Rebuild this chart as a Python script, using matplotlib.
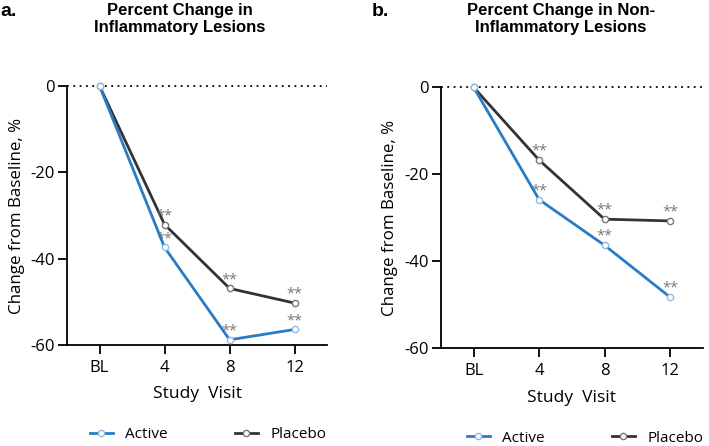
import matplotlib
matplotlib.use("Agg")
import matplotlib.pyplot as plt

visits = ["BL", "4", "8", "12"]

# panel a: inflammatory lesions
infl_active = [0, -37.4, -58.8, -56.4]
infl_placebo = [0, -32.1, -46.9, -50.3]

# panel b: non-inflammatory lesions
noninfl_active = [0, -25.8, -36.3, -48.2]
noninfl_placebo = [0, -16.7, -30.3, -30.7]

titles = ["Percent Change in\nInflammatory Lesions",
          "Percent Change in Non-\nInflammatory Lesions"]
panel_labels = ["a.", "b."]

BLUE = "#2a7bc6"
DARK = "#333333"
STAR = "#777777"

plt.rcParams["font.family"] = ["Open Sans", "DejaVu Sans"]

fig = plt.figure(figsize=(7.09, 4.46), dpi=100)
ax_a = fig.add_axes([0.0945, 0.2265, 0.367, 0.5807])
ax_b = fig.add_axes([0.622, 0.219, 0.369, 0.585])

# axes, data, legend anchor (left edge of first handle, vertical centre)
panels = [
    (ax_a, infl_active, infl_placebo, (0.088, -0.347)),
    (ax_b, noninfl_active, noninfl_placebo, (0.099, -0.344)),
]

x = list(range(len(visits)))

for ax, active, placebo, leg_anchor in panels:
    ax.axhline(0, color="black", lw=1.3, ls=(0, (1, 2.5)), zorder=1, clip_on=False)
    ax.plot(x, placebo, color=DARK, lw=2, marker="o", ms=4.5, mfc="white",
            mec="#777777", mew=1, label="Placebo", clip_on=False, zorder=3)
    ax.plot(x, active, color=BLUE, lw=2, marker="o", ms=4.5, mfc="white",
            mec="#8fbce6", mew=1, label="Active", clip_on=False, zorder=4)
    for series in (active, placebo):
        for xi, yi in zip(x[1:], series[1:]):
            ax.annotate("**", (xi, yi), xytext=(0, 1), textcoords="offset points",
                        ha="center", va="bottom", fontsize=10.5, color=STAR)

    ax.set_xlim(-0.5, 3.5)
    ax.set_ylim(-60, 0)
    ax.set_yticks([0, -20, -40, -60])
    ax.set_yticklabels(["0", "-20", "-40", "-60"])
    ax.set_xticks(x)
    ax.set_xticklabels(visits)
    ax.spines["top"].set_visible(False)
    ax.spines["right"].set_visible(False)
    ax.spines["left"].set_linewidth(1.3)
    ax.spines["bottom"].set_linewidth(1.3)
    ax.tick_params(axis="y", direction="out", length=6.5, width=1.3,
                   labelsize=12, pad=2, colors="black")
    ax.tick_params(axis="x", direction="out", length=6.5, width=1.3,
                   labelsize=12, pad=4, colors="black")
    ax.set_ylabel("Change from Baseline, %", fontsize=12.2)
    ax.set_xlabel("Study  Visit", fontsize=12.5)
    ax.yaxis.set_label_coords(-0.163, 0.5)
    ax.xaxis.set_label_coords(0.5, -0.16)

    handles, labels = ax.get_legend_handles_labels()
    ax.legend(handles[::-1], labels[::-1], ncol=2, loc="center left",
              bbox_to_anchor=leg_anchor, frameon=False, fontsize=11,
              borderaxespad=0, borderpad=0,
              handlelength=1.5, handletextpad=0.8, columnspacing=4.4)

fig.text(180 / 709, 1 - 3 / 446, titles[0], ha="center", va="top",
         fontsize=12, fontweight="bold", family="Liberation Sans", linespacing=1.2)
fig.text(561 / 709, 1 - 3 / 446, titles[1], ha="center", va="top",
         fontsize=12, fontweight="bold", family="Liberation Sans", linespacing=1.2)
fig.text(0.0, 1 - 3 / 446, panel_labels[0], ha="left", va="top",
         fontsize=14, fontweight="bold", family="Liberation Sans")
fig.text(372 / 709, 1 - 3 / 446, panel_labels[1], ha="left", va="top",
         fontsize=14, fontweight="bold", family="Liberation Sans")

fig.savefig("out.png", dpi=100)
